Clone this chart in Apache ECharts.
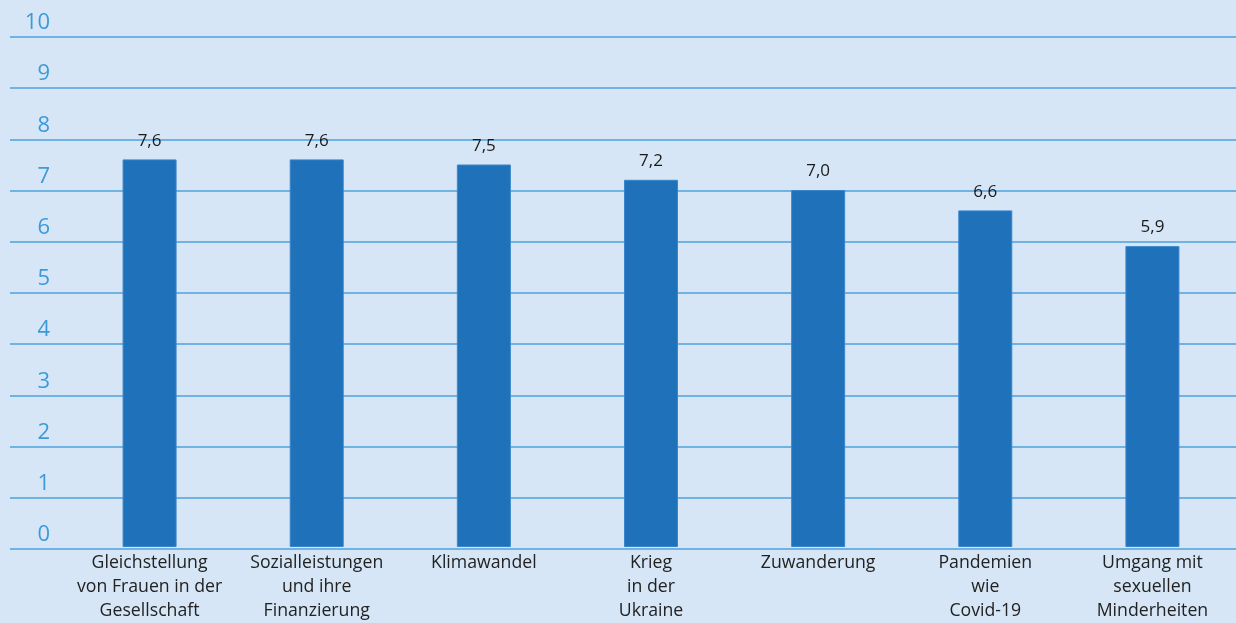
<!DOCTYPE html>
<html>
<head>
<meta charset="utf-8">
<script src="https://cdn.jsdelivr.net/npm/echarts@6/dist/echarts.min.js"></script>
<style>
  html, body { margin: 0; padding: 0; background: #d6e6f6; }
  #main { width: 1236px; height: 623px; }
</style>
</head>
<body>
<div id="main"></div>
<script>
var categories = [
    'Gleichstellung\nvon Frauen in der\nGesellschaft',
    'Sozialleistungen\nund ihre\nFinanzierung',
    'Klimawandel',
    'Krieg\nin der\nUkraine',
    'Zuwanderung',
    'Pandemien\nwie\nCovid-19',
    'Umgang mit\nsexuellen\nMinderheiten'
];
var values = [7.6, 7.6, 7.5, 7.2, 7.0, 6.6, 5.9];

var dom = document.getElementById('main');
var myChart = echarts.init(dom, null, { renderer: 'canvas' });

var option = {
    backgroundColor: '#d6e6f6',
    textStyle: { fontFamily: '"Open Sans", sans-serif' },
    grid: [
        // grid for the horizontal lines + y labels (spans full width)
        { left: 10, right: 0, top: 37, bottom: 74 },
        // grid for the bars
        { left: 66, right: -3, top: 37, bottom: 74 }
    ],
    xAxis: [
        { gridIndex: 0, type: 'value', show: false, min: 0, max: 1 },
        {
            gridIndex: 1,
            type: 'category',
            data: categories,
            axisLine: { show: false },
            axisTick: { show: false },
            axisLabel: {
                color: '#222',
                fontSize: 17.7,
                lineHeight: 24,
                margin: 4,
                interval: 0
            }
        }
    ],
    yAxis: [
        {
            gridIndex: 0,
            type: 'value',
            min: 0,
            max: 10,
            interval: 1,
            axisLine: { show: false },
            axisTick: { show: false },
            axisLabel: {
                inside: true,
                align: 'right',
                verticalAlign: 'bottom',
                margin: 40,
                padding: [0, 0, 3, 0],
                color: '#3d9ad8',
                fontSize: 22
            },
            splitLine: { lineStyle: { color: '#4ea2dd', width: 1.5 } }
        },
        { gridIndex: 1, type: 'value', min: 0, max: 10, show: false }
    ],
    series: [
        {
            type: 'bar',
            xAxisIndex: 1,
            yAxisIndex: 1,
            data: values,
            barWidth: 54,
            itemStyle: { color: '#1f71ba', borderColor: '#3a86cc', borderWidth: 1 },
            label: {
                show: true,
                position: 'top',
                distance: 10,
                color: '#1a1a1a',
                fontSize: 17,
                formatter: function (p) {
                    return p.value.toFixed(1).replace('.', ',');
                }
            }
        }
    ]
};

myChart.setOption(option);
window.addEventListener('resize', myChart.resize);
</script>
</body>
</html>
